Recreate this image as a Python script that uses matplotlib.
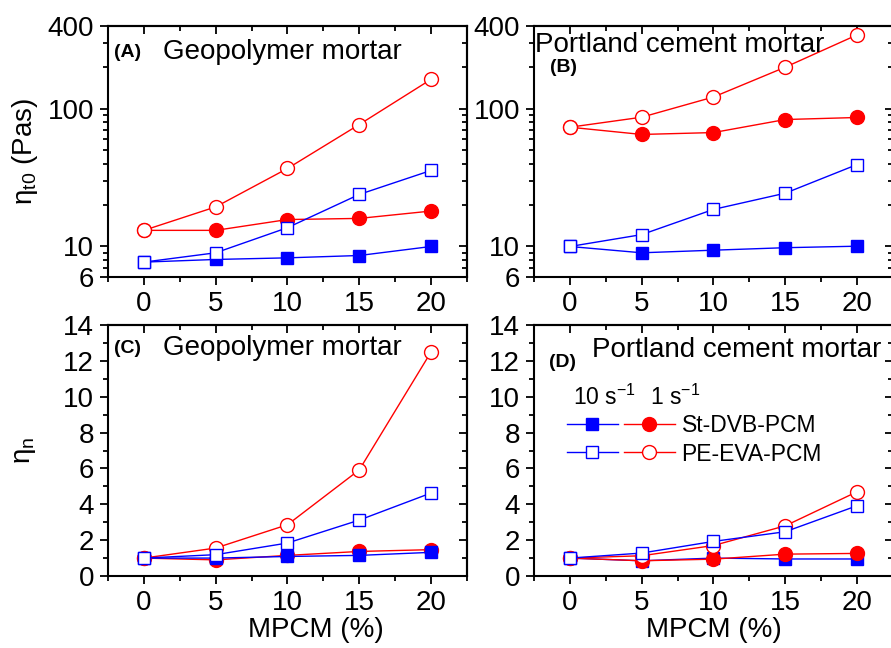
import matplotlib.pyplot as plt
from matplotlib.ticker import MultipleLocator, FixedLocator, NullFormatter
from matplotlib.lines import Line2D
from matplotlib.legend_handler import HandlerTuple

# Шрифты как в Origin (Arial-подобный)
plt.rcParams['font.family'] = ['Liberation Sans', 'DejaVu Sans']
plt.rcParams['mathtext.fontset'] = 'custom'
plt.rcParams['mathtext.rm'] = 'Liberation Sans'
plt.rcParams['mathtext.it'] = 'Liberation Sans:italic'
plt.rcParams['mathtext.bf'] = 'Liberation Sans:bold'

# Данные
mpcm = [0, 5, 10, 15, 20]

# (A) геополимерный раствор, eta_t0 (Pas)
geo_t0_stdvb_10 = [7.7, 8.05, 8.27, 8.6, 10.0]
geo_t0_peeva_10 = [7.7, 9.0, 13.7, 23.9, 35.7]
geo_t0_stdvb_1 = [13.1, 13.1, 15.7, 16.0, 18.1]
geo_t0_peeva_1 = [13.1, 19.4, 36.9, 77.0, 164.0]

# (B) портландцементный раствор, eta_t0 (Pas)
pc_t0_stdvb_10 = [10.0, 9.0, 9.4, 9.8, 10.05]
pc_t0_peeva_10 = [10.0, 12.2, 18.6, 24.4, 39.4]
pc_t0_stdvb_1 = [73.6, 65.2, 67.3, 83.7, 86.6]
pc_t0_peeva_1 = [73.6, 87.0, 122.0, 201.0, 345.0]

# (C) геополимерный раствор, eta_n
geo_n_stdvb_10 = [1.0, 1.0, 1.09, 1.15, 1.32]
geo_n_peeva_10 = [1.0, 1.19, 1.84, 3.12, 4.63]
geo_n_stdvb_1 = [1.0, 0.9, 1.15, 1.37, 1.47]
geo_n_peeva_1 = [1.0, 1.56, 2.86, 5.92, 12.5]

# (D) портландцементный раствор, eta_n
pc_n_stdvb_10 = [1.0, 0.85, 1.0, 0.95, 0.95]
pc_n_peeva_10 = [1.0, 1.28, 1.93, 2.47, 3.92]
pc_n_stdvb_1 = [1.0, 0.85, 0.94, 1.22, 1.26]
pc_n_peeva_1 = [1.0, 1.13, 1.7, 2.8, 4.7]

BLUE = '#0000ff'
RED = '#ff0000'
FS = 20

sq_f = dict(color=BLUE, marker='s', ms=9, mfc=BLUE, mec=BLUE, mew=1, lw=1)
sq_o = dict(color=BLUE, marker='s', ms=9, mfc='white', mec=BLUE, mew=1, lw=1)
ci_f = dict(color=RED, marker='o', ms=10, mfc=RED, mec=RED, mew=1, lw=1)
ci_o = dict(color=RED, marker='o', ms=10, mfc='white', mec=RED, mew=1, lw=1)

log_minor = [7, 8, 9, 20, 30, 40, 50, 60, 70, 80, 90, 200, 300]


def style_axes(ax, log):
    ax.set_xlim(-2.5, 22.5)
    ax.set_xticks(mpcm)
    ax.xaxis.set_minor_locator(MultipleLocator(2.5))
    if log:
        ax.set_yscale('log')
        ax.set_ylim(6, 400)
        ax.set_yticks([6, 10, 100, 400], labels=['6', '10', '100', '400'])
        ax.yaxis.set_minor_locator(FixedLocator(log_minor))
        ax.yaxis.set_minor_formatter(NullFormatter())
    else:
        ax.set_ylim(0, 14)
        ax.set_yticks(range(0, 15, 2))
        ax.yaxis.set_minor_locator(MultipleLocator(1))
    for sp in ax.spines.values():
        sp.set_linewidth(1.5)
    ax.tick_params(which='both', direction='out', width=1.3, labelsize=FS, pad=4)
    ax.tick_params(which='major', length=6)
    ax.tick_params(which='minor', length=3.5)

    # зеркальные риски сверху и справа (внутрь)
    top = ax.secondary_xaxis('top')
    top.set_xticks(mpcm, labels=[])
    top.xaxis.set_minor_locator(MultipleLocator(2.5))
    right = ax.secondary_yaxis('right')
    if log:
        right.set_yticks([10, 100], labels=[])
        right.yaxis.set_minor_locator(FixedLocator(log_minor))
        right.yaxis.set_minor_formatter(NullFormatter())
    else:
        right.set_yticks(range(0, 15, 2), labels=[])
        right.yaxis.set_minor_locator(MultipleLocator(1))
    for sec in (top, right):
        for sp in sec.spines.values():
            sp.set_linewidth(1.5)
        sec.tick_params(which='both', direction='in', width=1.3)
        sec.tick_params(which='major', length=6)
        sec.tick_params(which='minor', length=3.5)


fig = plt.figure(figsize=(8.91, 6.48), dpi=100)
axA = fig.add_axes([0.1212, 0.5725, 0.4029, 0.3873])
axB = fig.add_axes([0.5993, 0.5725, 0.4029, 0.3873])
axC = fig.add_axes([0.1212, 0.1111, 0.4029, 0.3873])
axD = fig.add_axes([0.5993, 0.1111, 0.4029, 0.3873])

# (A)
axA.plot(mpcm, geo_t0_stdvb_10, **sq_f)
axA.plot(mpcm, geo_t0_stdvb_1, **ci_f)
axA.plot(mpcm, geo_t0_peeva_1, **ci_o)
axA.plot(mpcm, geo_t0_peeva_10, **sq_o)
style_axes(axA, True)

# (B)
axB.plot(mpcm, pc_t0_stdvb_10, **sq_f)
axB.plot(mpcm, pc_t0_stdvb_1, **ci_f)
axB.plot(mpcm, pc_t0_peeva_1, **ci_o)
axB.plot(mpcm, pc_t0_peeva_10, **sq_o)
style_axes(axB, True)

# (C)
axC.plot(mpcm, geo_n_stdvb_1, **ci_f)
axC.plot(mpcm, geo_n_stdvb_10, **sq_f)
axC.plot(mpcm, geo_n_peeva_1, **ci_o)
axC.plot(mpcm, geo_n_peeva_10, **sq_o)
style_axes(axC, False)

# (D)
axD.plot(mpcm, pc_n_stdvb_10, **sq_f)
axD.plot(mpcm, pc_n_stdvb_1, **ci_f)
axD.plot(mpcm, pc_n_peeva_1, **ci_o)
axD.plot(mpcm, pc_n_peeva_10, **sq_o)
style_axes(axD, False)

# Подписи панелей
axA.text(0.017, 0.896, '(A)', transform=axA.transAxes, fontsize=14, fontweight='bold', va='center')
axA.text(0.153, 0.896, 'Geopolymer mortar', transform=axA.transAxes, fontsize=FS, va='center')
axB.text(0.003, 0.924, 'Portland cement mortar', transform=axB.transAxes, fontsize=FS, va='center')
axB.text(0.045, 0.833, '(B)', transform=axB.transAxes, fontsize=14, fontweight='bold', va='center')
axC.text(0.017, 0.908, '(C)', transform=axC.transAxes, fontsize=14, fontweight='bold', va='center')
axC.text(0.153, 0.908, 'Geopolymer mortar', transform=axC.transAxes, fontsize=FS, va='center')
axD.text(0.162, 0.90, 'Portland cement mortar', transform=axD.transAxes, fontsize=FS, va='center')
axD.text(0.042, 0.849, '(D)', transform=axD.transAxes, fontsize=14, fontweight='bold', va='center')

# Оси
axA.set_ylabel('η$_{\\mathrm{t0}}$ (Pas)', fontsize=FS)
axA.yaxis.set_label_coords(-0.19, 0.5)
axC.set_ylabel('η$_{\\mathrm{n}}$', fontsize=FS)
axC.yaxis.set_label_coords(-0.195, 0.5)
axC.set_xlabel('MPCM (%)', fontsize=FS)
axC.xaxis.set_label_coords(0.58, -0.163)
axD.set_xlabel('MPCM (%)', fontsize=FS)
axD.xaxis.set_label_coords(0.5, -0.163)

# Легенда
axD.text(0.109, 0.713, '10 s$^{-1}$', transform=axD.transAxes, fontsize=16.5, va='center')
axD.text(0.323, 0.713, '1 s$^{-1}$', transform=axD.transAxes, fontsize=16.5, va='center')
h_st = (Line2D([], [], **sq_f), Line2D([], [], **ci_f))
h_pe = (Line2D([], [], **sq_o), Line2D([], [], **ci_o))
axD.legend([h_st, h_pe], ['St-DVB-PCM', 'PE-EVA-PCM'],
           handler_map={tuple: HandlerTuple(ndivide=None, pad=0.27)},
           handlelength=4.7, handletextpad=0.3, labelspacing=0.22,
           fontsize=16.5, frameon=False, borderpad=0, borderaxespad=0,
           loc='center left', bbox_to_anchor=(0.092, 0.542))

fig.savefig('out.png', dpi=100)
